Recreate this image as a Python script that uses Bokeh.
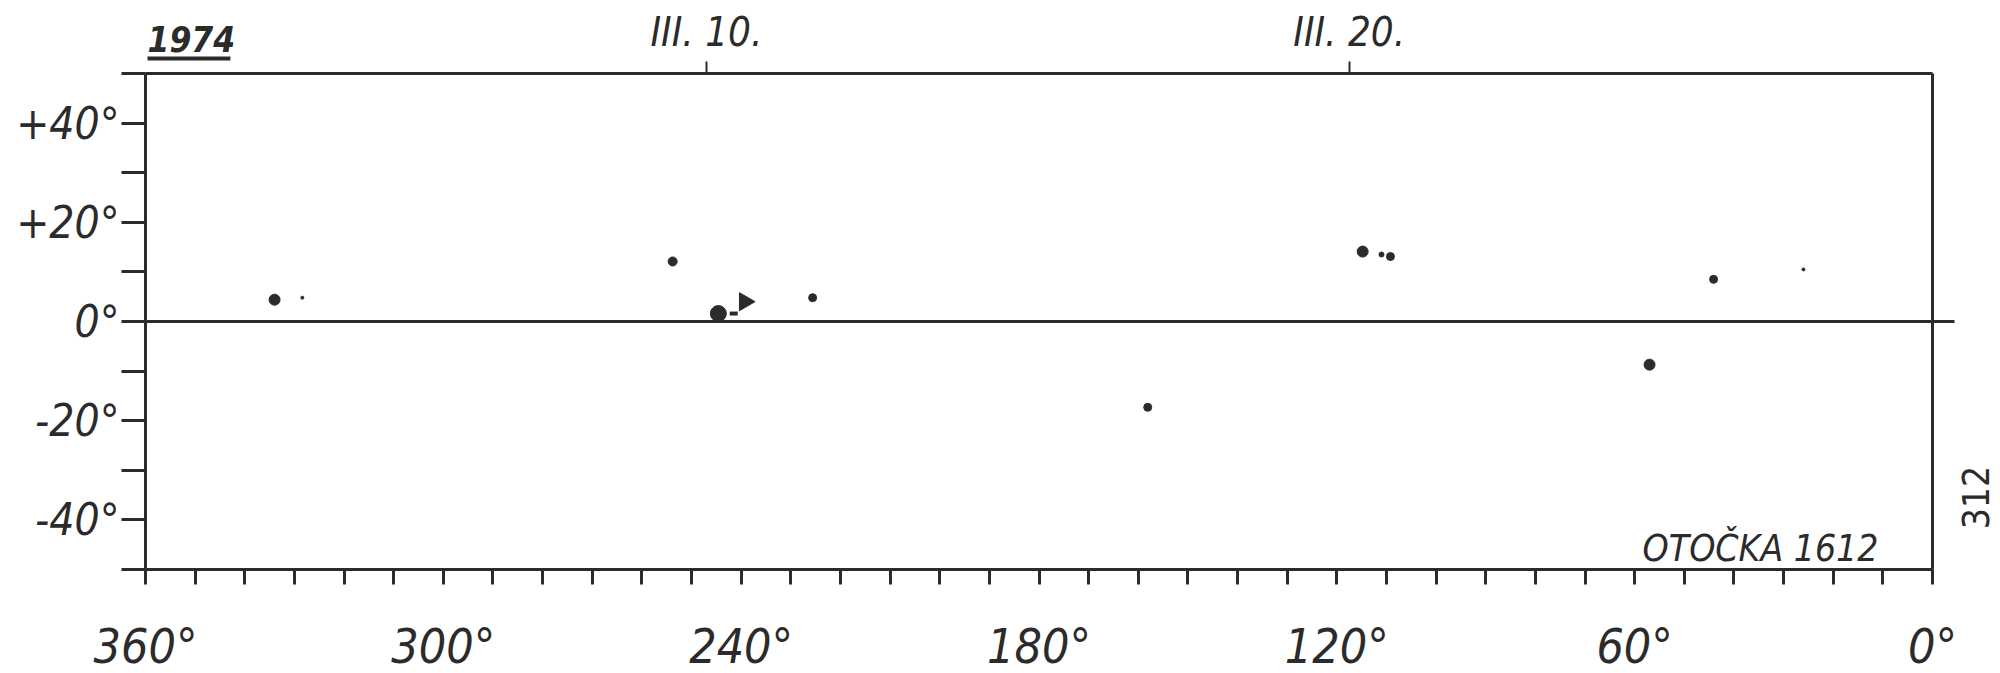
from bokeh.plotting import figure
from bokeh.models import (Range1d, LinearAxis, FixedTicker, Label, Arrow, ColumnDataSource)
from bokeh.embed import file_html
from bokeh.resources import INLINE

# ---------------- data ----------------
# heliographic (Carrington) longitude and latitude of the sunspot groups
spot_lon = [334.0, 328.4, 253.8, 244.6, 241.5, 239.3, 225.6, 158.1, 114.8, 111.0, 109.2, 57.0, 44.1, 26.0]
spot_lat = [4.4, 4.8, 12.1, 1.6, 1.6, 4.0, 4.8, -17.3, 14.1, 13.5, 13.1, -8.7, 8.5, 10.5]
spot_kind = ["medium", "pore", "elong", "large", "dash", "triangle", "small",
             "small", "medium", "tiny", "small", "medium", "small", "pore"]

lon_ticks = list(range(0, 361, 10))
lon_labels = {0: "0°", 60: "60°", 120: "120°", 180: "180°", 240: "240°", 300: "300°", 360: "360°"}
lat_ticks = list(range(-50, 51, 10))
lat_labels = {40: "+40°", 20: "+20°", 0: "0°", -20: "-20°", -40: "-40°"}
date_ticks = [247, 117.5]
date_labels = ["III. 10.", "III. 20."]
year_text = "1974"
rotation_text = "OTOČKA 1612"
page_text = "312"

# ---------------- style / layout ----------------
INK = "#2b2b2b"
FONT = "DejaVu Sans Condensed"
W, H = 2000, 673
PX_X = 1787 / 360.0      # pixels per degree of longitude
PX_Y = 496 / 100.0       # pixels per degree of latitude
x_start = 360 + 145 / PX_X
x_end = 0 - (W - 1932) / PX_X
y_end = 50 + 73 / PX_Y
y_start = -50 - (H - 569) / PX_Y

kind_size = {"large": 16, "medium": 11, "elong": 9, "small": 8, "tiny": 5, "pore": 3,
             "triangle": 18, "dash": 8}
kind_marker = {"large": "circle", "medium": "circle", "elong": "circle", "small": "circle",
               "tiny": "circle", "pore": "circle", "triangle": "triangle", "dash": "dash"}
kind_angle = {"triangle": -1.5708}

p = figure(width=W, height=H, x_range=Range1d(x_start, x_end), y_range=Range1d(y_start, y_end),
           output_backend="svg", toolbar_location=None, title=None,
           x_axis_location=None, y_axis_location=None,
           min_border_left=0, min_border_right=0, min_border_top=0, min_border_bottom=0)
p.grid.visible = False
p.background_fill_color = "white"
p.border_fill_color = "white"
p.outline_line_color = None


def make_axis(ticks, labels, loc, bounds, tick_out, font_size, standoff, italic=True,
              line=True, tick_width=3):
    ax = LinearAxis(ticker=FixedTicker(ticks=ticks),
                    major_label_overrides={t: labels.get(t, "") for t in ticks},
                    fixed_location=loc, bounds=bounds)
    ax.axis_line_color = INK if line else None
    ax.axis_line_width = 3
    ax.major_tick_in = 0
    ax.major_tick_out = tick_out
    ax.major_tick_line_color = INK if tick_out > 0 else None
    ax.major_tick_line_width = tick_width
    ax.minor_tick_line_color = None
    ax.major_label_text_font = FONT
    ax.major_label_text_font_size = font_size
    ax.major_label_text_font_style = "italic" if italic else "normal"
    ax.major_label_text_color = INK
    ax.major_label_standoff = standoff
    return ax


# left: latitude scale (drawn at 360°)
p.add_layout(make_axis(lat_ticks, lat_labels, 360, (-50, 50), 24, "44px", 2), "left")
# right frame edge at 0°, with the equator running a little beyond it
p.add_layout(make_axis([0], {0: ""}, 0, (-50, 50), 22, "10px", 0), "right")
# bottom: longitude scale
p.add_layout(make_axis(lon_ticks, lon_labels, -50, (0, 360), 15, "48px", 33), "below")
# equator
p.add_layout(make_axis([], {}, 0, (0, 360), 0, "10px", 0), "below")
# top: dates
p.add_layout(make_axis(date_ticks, dict(zip(date_ticks, date_labels)), 50, (0, 360), 12,
                       "40px", 7, tick_width=2), "above")

src = ColumnDataSource(dict(
    lon=spot_lon, lat=spot_lat,
    size=[kind_size[k] for k in spot_kind],
    marker=[kind_marker[k] for k in spot_kind],
    angle=[kind_angle.get(k, 0.0) for k in spot_kind],
    lw=[4 if k == "dash" else 1 for k in spot_kind],
))
p.scatter(x="lon", y="lat", size="size", marker="marker", angle="angle", source=src,
          fill_color=INK, line_color=INK, line_width="lw")

# annotations
p.add_layout(Label(x=359.6, y=57.0, text=year_text, text_font=FONT, text_font_size="35px",
                   text_font_style="bold italic", text_color=INK, text_baseline="alphabetic"))
p.add_layout(Arrow(start=None, end=None, x_start=359.6, y_start=53.0, x_end=342.9, y_end=53.0,
                   line_color=INK, line_width=4))
p.add_layout(Label(x=58.4, y=-45.8, text=rotation_text, text_font=FONT, text_font_size="37px",
                   text_font_style="italic", text_color=INK, text_baseline="alphabetic"))
p.add_layout(Label(x=-8.6, y=-35.5, text=page_text, text_font=FONT, text_font_size="37px",
                   text_color=INK, angle=1.5708, text_align="center", text_baseline="middle"))

open("out.html", "w").write(file_html(p, INLINE))
